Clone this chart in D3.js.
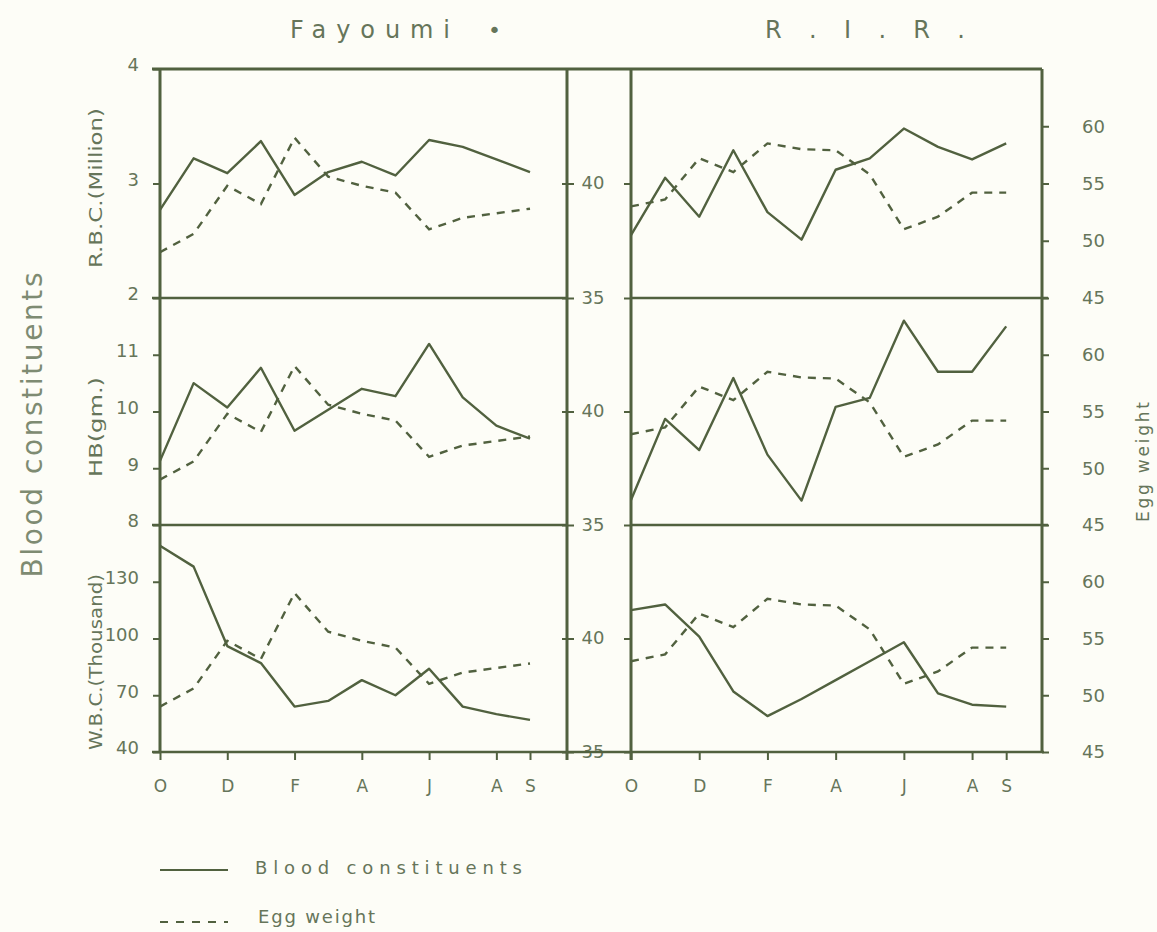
<!DOCTYPE html>
<html>
<head>
<meta charset="utf-8">
<script src="https://cdn.jsdelivr.net/npm/d3@7"></script>
<style>
  body { margin: 0; background: #fdfdf7; }
  svg { display: block; }
  text { font-family: "DejaVu Sans", sans-serif; fill: #66755a; }
</style>
</head>
<body>
<script>
// Months October -> September, only some are labelled on the axis
const months = ["O", "N", "D", "J", "F", "M", "A", "M", "J", "J", "A", "S"];
const labelledMonths = [0, 2, 4, 6, 8, 10, 11];

// Left axis of each row (blood constituents)
const rowLabels = ["R.B.C.(Million)", "HB(gm.)", "W.B.C.(Thousand)"];
const bloodDomains = [[2, 4], [8, 12], [40, 160]];
const bloodTicks = [[2, 3, 4], [8, 9, 10, 11], [40, 70, 100, 130]];

// Fayoumi
const fayoumiRBC = [2.77, 3.22, 3.09, 3.37, 2.90, 3.10, 3.19, 3.07, 3.38, 3.32, 3.21, 3.10];
const fayoumiHB = [9.13, 10.50, 10.07, 10.77, 9.66, 10.03, 10.40, 10.27, 11.19, 10.25, 9.75, 9.52];
const fayoumiWBC = [149, 138, 96, 87, 64, 67, 78, 70, 84, 64, 60, 57];
const fayoumiEgg = [37.0, 37.8, 39.9, 39.1, 42.0, 40.3, 39.9, 39.6, 38.0, 38.5, 38.7, 38.9];
const fayoumiEggTicks = [35, 40];

// R.I.R.
const rirRBC = [2.55, 3.05, 2.71, 3.29, 2.75, 2.51, 3.12, 3.22, 3.48, 3.32, 3.21, 3.35];
const rirHB = [8.44, 9.87, 9.32, 10.59, 9.24, 8.43, 10.08, 10.24, 11.60, 10.70, 10.70, 11.50];
const rirWBC = [115, 118, 101, 72, 59, 68, 78, 88, 98, 71, 65, 64];
const rirEgg = [53.0, 53.6, 57.2, 56.0, 58.5, 58.0, 57.9, 55.8, 51.0, 52.1, 54.2, 54.2];
const rirEggTicks = [45, 50, 55, 60];

const W = 1157, H = 932;
const ink = "#51613f";
const rowTop = [69, 298, 525], rowBot = [298, 525, 752];

const panels = [
  { x0: 160, x1: 567, xMax: 12.1, blood: [fayoumiRBC, fayoumiHB, fayoumiWBC], egg: fayoumiEgg, eggDomain: [35, 45] },
  { x0: 631, x1: 1042, xMax: 12.05, blood: [rirRBC, rirHB, rirWBC], egg: rirEgg, eggDomain: [45, 65] }
];

const svg = d3.select("body").append("svg")
    .attr("width", W)
    .attr("height", H);

svg.append("rect").attr("width", W).attr("height", H).attr("fill", "#fdfdf7");

function styleAxis(g) {
  g.select(".domain").remove();
  g.selectAll(".tick line").attr("stroke", ink).attr("stroke-width", 2);
  g.selectAll(".tick text")
      .attr("fill", "#66755a")
      .style("font-size", "18px")
      .style("font-family", "DejaVu Sans, sans-serif");
}

// Data lines and axes, row by row
panels.forEach((p, pi) => {
  const x = d3.scaleLinear().domain([0, p.xMax]).range([p.x0, p.x1]);

  for (let r = 0; r < 3; r++) {
    const yB = d3.scaleLinear().domain(bloodDomains[r]).range([rowBot[r], rowTop[r]]);
    const yE = d3.scaleLinear().domain(p.eggDomain).range([rowBot[r], rowTop[r]]);

    svg.append("path")
        .datum(p.blood[r])
        .attr("fill", "none")
        .attr("stroke", ink)
        .attr("stroke-width", 2.4)
        .attr("stroke-linejoin", "round")
        .attr("d", d3.line().x((d, i) => x(i)).y(d => yB(d)));

    svg.append("path")
        .datum(p.egg)
        .attr("fill", "none")
        .attr("stroke", ink)
        .attr("stroke-width", 2.4)
        .attr("stroke-dasharray", "8,7")
        .attr("d", d3.line().x((d, i) => x(i)).y(d => yE(d)));

    if (pi === 0) {
      // blood constituents axis
      svg.append("g")
          .attr("transform", `translate(${p.x0},0)`)
          .call(d3.axisLeft(yB).tickValues(bloodTicks[r]).tickSize(7).tickPadding(14).tickFormat(d3.format("d")))
          .call(styleAxis)
          .selectAll(".tick text").attr("dy", "0.1em");

      svg.append("text")
          .attr("transform", `translate(96,${[188, 427, 662][r]}) rotate(-90)`)
          .attr("text-anchor", "middle")
          .attr("dy", "0.35em")
          .attr("textLength", [160, 100, 176][r]).attr("lengthAdjust", "spacingAndGlyphs")
          .style("font-size", "18px")
          .text(rowLabels[r]);

      // Fayoumi egg weight axis in the gap between panels
      const gE = svg.append("g")
          .attr("transform", `translate(${p.x1},0)`)
          .call(d3.axisRight(yE).tickValues(fayoumiEggTicks).tickSize(7).tickPadding(3))
          .call(styleAxis);
      gE.selectAll(".tick text").attr("x", 26).attr("text-anchor", "middle").attr("dy", "0.3em");
      gE.selectAll(".tick line").attr("x1", -5);

      svg.append("g")
          .attr("transform", `translate(${panels[1].x0},0)`)
          .call(d3.axisLeft(yE).tickValues(fayoumiEggTicks).tickSize(7).tickFormat(""))
          .call(styleAxis);
    } else {
      svg.append("g")
          .attr("transform", `translate(${p.x1},0)`)
          .call(d3.axisRight(yE).tickValues(rirEggTicks).tickSize(7).tickPadding(33))
          .call(styleAxis);
    }
  }

  // month axis
  svg.append("g")
      .attr("transform", `translate(0,${rowBot[2]})`)
      .call(d3.axisBottom(x).tickValues(labelledMonths).tickSize(8).tickPadding(20).tickFormat(i => months[i]))
      .call(styleAxis)
      .selectAll(".tick text").style("font-size", "17px");
});

// Frame
const frame = svg.append("g").attr("stroke", ink).attr("fill", "none");
frame.append("line").attr("x1", 152).attr("x2", 1042).attr("y1", rowTop[0]).attr("y2", rowTop[0]).attr("stroke-width", 3);
frame.append("line").attr("x1", 152).attr("x2", 1044).attr("y1", rowBot[2]).attr("y2", rowBot[2]).attr("stroke-width", 2.5);
[rowBot[0], rowBot[1]].forEach(y => {
  frame.append("line").attr("x1", 152).attr("x2", 567).attr("y1", y).attr("y2", y).attr("stroke-width", 2.5);
  frame.append("line").attr("x1", 631).attr("x2", 1048).attr("y1", y).attr("y2", y).attr("stroke-width", 2.5);
});
[160, 567, 631, 1042].forEach(xv => {
  frame.append("line").attr("x1", xv).attr("x2", xv)
      .attr("y1", rowTop[0]).attr("y2", xv === 160 || xv === 1042 ? rowBot[2] : rowBot[2] + 8)
      .attr("stroke-width", 3);
});

// Titles
svg.append("text").attr("x", 290).attr("y", 38).attr("textLength", 160).attr("lengthAdjust", "spacing")
    .style("font-size", "24px").text("Fayoumi");
svg.append("text").attr("x", 488).attr("y", 38).style("font-size", "22px").text("•");
svg.append("text").attr("x", 765).attr("y", 38).attr("textLength", 200).attr("lengthAdjust", "spacing")
    .style("font-size", "24px").text("R . I . R .");

// Big axis titles
svg.append("text")
    .attr("transform", "translate(32,425) rotate(-90)")
    .attr("text-anchor", "middle")
    .attr("dy", "0.35em")
    .attr("textLength", 305).attr("lengthAdjust", "spacing")
    .style("font-size", "28px")
    .style("fill", "#7e8b72")
    .text("Blood constituents");

svg.append("text")
    .attr("transform", "translate(1143,462) rotate(-90)")
    .attr("text-anchor", "middle")
    .attr("dy", "0.35em")
    .attr("textLength", 120).attr("lengthAdjust", "spacing")
    .style("font-size", "17px")
    .text("Egg weight");

// Legend
const legend = svg.append("g");
legend.append("line").attr("x1", 160).attr("x2", 228).attr("y1", 870).attr("y2", 870)
    .attr("stroke", ink).attr("stroke-width", 2);
legend.append("text").attr("x", 255).attr("y", 868).attr("dy", "0.35em")
    .attr("textLength", 267).attr("lengthAdjust", "spacing")
    .style("font-size", "18px").text("Blood constituents");
legend.append("line").attr("x1", 160).attr("x2", 228).attr("y1", 922).attr("y2", 922)
    .attr("stroke", ink).attr("stroke-width", 2).attr("stroke-dasharray", "8,8");
legend.append("text").attr("x", 258).attr("y", 917).attr("dy", "0.35em")
    .attr("textLength", 117).attr("lengthAdjust", "spacing")
    .style("font-size", "18px").text("Egg weight");
</script>
</body>
</html>
